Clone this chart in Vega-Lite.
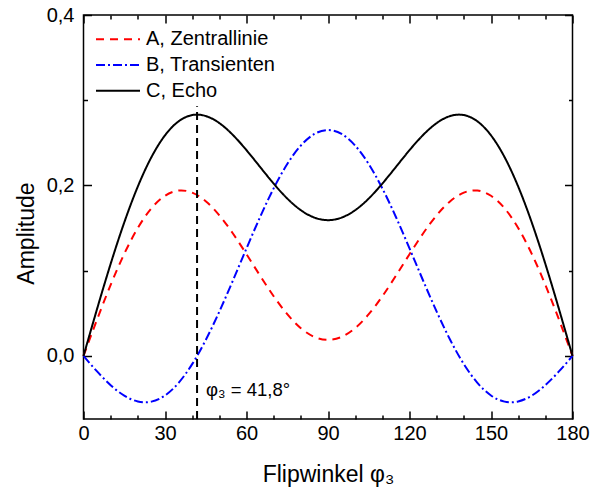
{
  "$schema": "https://vega.github.io/schema/vega-lite/v6.json",
  "width": 489,
  "height": 404,
  "autosize": "none",
  "padding": {"left": 83.5, "top": 15, "right": 24.5, "bottom": 74},
  "background": "white",
  "config": {
    "font": "Liberation Sans",
    "view": {"stroke": "black", "strokeWidth": 1.5},
    "axis": {
      "domain": false,
      "grid": false,
      "labelFlush": false,
      "labelFontSize": 20,
      "labelColor": "black",
      "labelFont": "Liberation Sans",
      "tickColor": "black",
      "tickWidth": 1.5,
      "titleFontSize": 23,
      "titleFontWeight": "normal",
      "titleColor": "black",
      "titleFont": "Liberation Sans"
    }
  },
  "resolve": {"axis": {"x": "independent", "y": "independent"}},
  "layer": [
    {
      "data": {
        "values": [
          {"phi": 0, "A, Zentrallinie": 0, "B, Transienten": 0, "C, Echo": 0},
          {"phi": 5, "A, Zentrallinie": 0.0428, "B, Transienten": -0.0182, "C, Echo": 0.0552},
          {"phi": 10, "A, Zentrallinie": 0.0834, "B, Transienten": -0.0343, "C, Echo": 0.1081},
          {"phi": 15, "A, Zentrallinie": 0.1198, "B, Transienten": -0.0466, "C, Echo": 0.1566},
          {"phi": 20, "A, Zentrallinie": 0.1502, "B, Transienten": -0.0534, "C, Echo": 0.1988},
          {"phi": 25, "A, Zentrallinie": 0.1732, "B, Transienten": -0.0536, "C, Echo": 0.2332},
          {"phi": 30, "A, Zentrallinie": 0.1879, "B, Transienten": -0.0464, "C, Echo": 0.2588},
          {"phi": 35, "A, Zentrallinie": 0.1940, "B, Transienten": -0.0316, "C, Echo": 0.2752},
          {"phi": 40, "A, Zentrallinie": 0.1916, "B, Transienten": -0.0096, "C, Echo": 0.2826},
          {"phi": 45, "A, Zentrallinie": 0.1816, "B, Transienten": 0.0187, "C, Echo": 0.2815},
          {"phi": 50, "A, Zentrallinie": 0.1650, "B, Transienten": 0.0520, "C, Echo": 0.2732},
          {"phi": 55, "A, Zentrallinie": 0.1437, "B, Transienten": 0.0885, "C, Echo": 0.2592},
          {"phi": 60, "A, Zentrallinie": 0.1193, "B, Transienten": 0.1262, "C, Echo": 0.2414},
          {"phi": 65, "A, Zentrallinie": 0.0941, "B, Transienten": 0.1630, "C, Echo": 0.2217},
          {"phi": 70, "A, Zentrallinie": 0.0700, "B, Transienten": 0.1966, "C, Echo": 0.2022},
          {"phi": 75, "A, Zentrallinie": 0.0490, "B, Transienten": 0.2251, "C, Echo": 0.1847},
          {"phi": 80, "A, Zentrallinie": 0.0326, "B, Transienten": 0.2468, "C, Echo": 0.1710},
          {"phi": 85, "A, Zentrallinie": 0.0223, "B, Transienten": 0.2604, "C, Echo": 0.1623},
          {"phi": 90, "A, Zentrallinie": 0.0188, "B, Transienten": 0.2650, "C, Echo": 0.1593},
          {"phi": 95, "A, Zentrallinie": 0.0223, "B, Transienten": 0.2604, "C, Echo": 0.1623},
          {"phi": 100, "A, Zentrallinie": 0.0326, "B, Transienten": 0.2468, "C, Echo": 0.1710},
          {"phi": 105, "A, Zentrallinie": 0.0490, "B, Transienten": 0.2251, "C, Echo": 0.1847},
          {"phi": 110, "A, Zentrallinie": 0.0700, "B, Transienten": 0.1966, "C, Echo": 0.2022},
          {"phi": 115, "A, Zentrallinie": 0.0941, "B, Transienten": 0.1630, "C, Echo": 0.2217},
          {"phi": 120, "A, Zentrallinie": 0.1193, "B, Transienten": 0.1262, "C, Echo": 0.2414},
          {"phi": 125, "A, Zentrallinie": 0.1437, "B, Transienten": 0.0885, "C, Echo": 0.2592},
          {"phi": 130, "A, Zentrallinie": 0.1650, "B, Transienten": 0.0520, "C, Echo": 0.2732},
          {"phi": 135, "A, Zentrallinie": 0.1816, "B, Transienten": 0.0187, "C, Echo": 0.2815},
          {"phi": 140, "A, Zentrallinie": 0.1916, "B, Transienten": -0.0096, "C, Echo": 0.2826},
          {"phi": 145, "A, Zentrallinie": 0.1940, "B, Transienten": -0.0316, "C, Echo": 0.2752},
          {"phi": 150, "A, Zentrallinie": 0.1879, "B, Transienten": -0.0464, "C, Echo": 0.2588},
          {"phi": 155, "A, Zentrallinie": 0.1732, "B, Transienten": -0.0536, "C, Echo": 0.2332},
          {"phi": 160, "A, Zentrallinie": 0.1502, "B, Transienten": -0.0534, "C, Echo": 0.1988},
          {"phi": 165, "A, Zentrallinie": 0.1198, "B, Transienten": -0.0466, "C, Echo": 0.1566},
          {"phi": 170, "A, Zentrallinie": 0.0834, "B, Transienten": -0.0343, "C, Echo": 0.1081},
          {"phi": 175, "A, Zentrallinie": 0.0428, "B, Transienten": -0.0182, "C, Echo": 0.0552},
          {"phi": 180, "A, Zentrallinie": 0, "B, Transienten": 0, "C, Echo": 0}
        ]
      },
      "transform": [
        {"fold": ["A, Zentrallinie", "B, Transienten", "C, Echo"], "as": ["series", "value"]}
      ],
      "mark": {"type": "line", "interpolate": "natural", "strokeWidth": 2},
      "encoding": {
        "x": {
          "field": "phi",
          "type": "quantitative",
          "scale": {"domain": [0, 180], "nice": false, "zero": false},
          "axis": {
            "orient": "bottom",
            "values": [0, 10, 20, 30, 40, 50, 60, 70, 80, 90, 100, 110, 120, 130, 140, 150, 160, 170, 180],
            "tickSize": {"condition": {"test": "datum.value % 30 === 0", "value": -8}, "value": -4},
            "labelExpr": "datum.value % 30 === 0 ? datum.label : ''",
            "labelFlush": false,
            "labelFontSize": 20,
            "labelPadding": 12.5,
            "title": "Flipwinkel φ₃",
            "titleFontSize": 23,
            "titleY": 62,
            "titleBaseline": "alphabetic"
          }
        },
        "y": {
          "field": "value",
          "type": "quantitative",
          "scale": {"domain": [-0.074, 0.4], "nice": false, "zero": false},
          "axis": {
            "orient": "left",
            "values": [0, 0.1, 0.2, 0.3, 0.4],
            "tickSize": {"condition": {"test": "round(datum.value * 10) % 2 === 0", "value": -8}, "value": -4},
            "labelExpr": "round(datum.value * 10) % 2 === 0 ? replace(format(datum.value, '.1f'), '.', ',') : ''",
            "labelFlush": false,
            "labelFontSize": 20,
            "labelPadding": 17.5,
            "title": "Amplitude",
            "titleFontSize": 23,
            "titleX": -50.2,
            "titleY": 218,
            "titleBaseline": "alphabetic"
          }
        },
        "color": {
          "field": "series",
          "type": "nominal",
          "scale": {
            "domain": ["A, Zentrallinie", "B, Transienten", "C, Echo"],
            "range": ["#ff0000", "#0000ff", "#000000"]
          },
          "legend": {
            "orient": "none",
            "legendX": 11.5,
            "legendY": 14.3,
            "title": null,
            "symbolType": "stroke",
            "symbolSize": 1936,
            "symbolStrokeWidth": 2,
            "clipHeight": 20,
            "labelFontSize": 20,
            "labelFont": "Liberation Sans",
            "labelColor": "black",
            "labelOffset": 5,
            "rowPadding": 5.7,
            "padding": 0
          }
        },
        "strokeDash": {
          "field": "series",
          "type": "nominal",
          "scale": {
            "domain": ["A, Zentrallinie", "B, Transienten", "C, Echo"],
            "range": [[8, 6], [9, 3, 2, 3], [1, 0]]
          },
          "legend": {
            "orient": "none",
            "legendX": 11.5,
            "legendY": 14.3,
            "title": null,
            "symbolType": "stroke",
            "symbolSize": 1936,
            "symbolStrokeWidth": 2,
            "clipHeight": 20,
            "labelFontSize": 20,
            "labelFont": "Liberation Sans",
            "labelColor": "black",
            "labelOffset": 5,
            "rowPadding": 5.7,
            "padding": 0
          }
        }
      }
    },
    {
      "data": {"values": [{"x": 41.8, "y1": -0.074, "y2": 0.293}]},
      "mark": {"type": "rule", "color": "black", "strokeWidth": 2, "strokeDash": [8, 5]},
      "encoding": {
        "x": {
          "field": "x",
          "type": "quantitative",
          "axis": {
            "orient": "top",
            "values": [0, 10, 20, 30, 40, 50, 60, 70, 80, 90, 100, 110, 120, 130, 140, 150, 160, 170, 180],
            "tickSize": {"condition": {"test": "datum.value % 30 === 0", "value": -8}, "value": -4},
            "labels": false,
            "title": null
          }
        },
        "y": {
          "field": "y1",
          "type": "quantitative",
          "axis": {
            "orient": "right",
            "values": [0, 0.1, 0.2, 0.3, 0.4],
            "tickSize": {"condition": {"test": "round(datum.value * 10) % 2 === 0", "value": -8}, "value": -4},
            "labels": false,
            "title": null
          }
        },
        "y2": {"field": "y2"}
      }
    },
    {
      "data": {"values": [{"x": 41.8, "y": -0.047, "label": "φ₃ = 41,8°"}]},
      "mark": {"type": "text", "align": "left", "baseline": "alphabetic", "dx": 9, "fontSize": 18.5, "font": "Liberation Sans", "color": "black"},
      "encoding": {
        "x": {"field": "x", "type": "quantitative", "axis": null},
        "y": {"field": "y", "type": "quantitative", "axis": null},
        "text": {"field": "label"}
      }
    }
  ]
}
